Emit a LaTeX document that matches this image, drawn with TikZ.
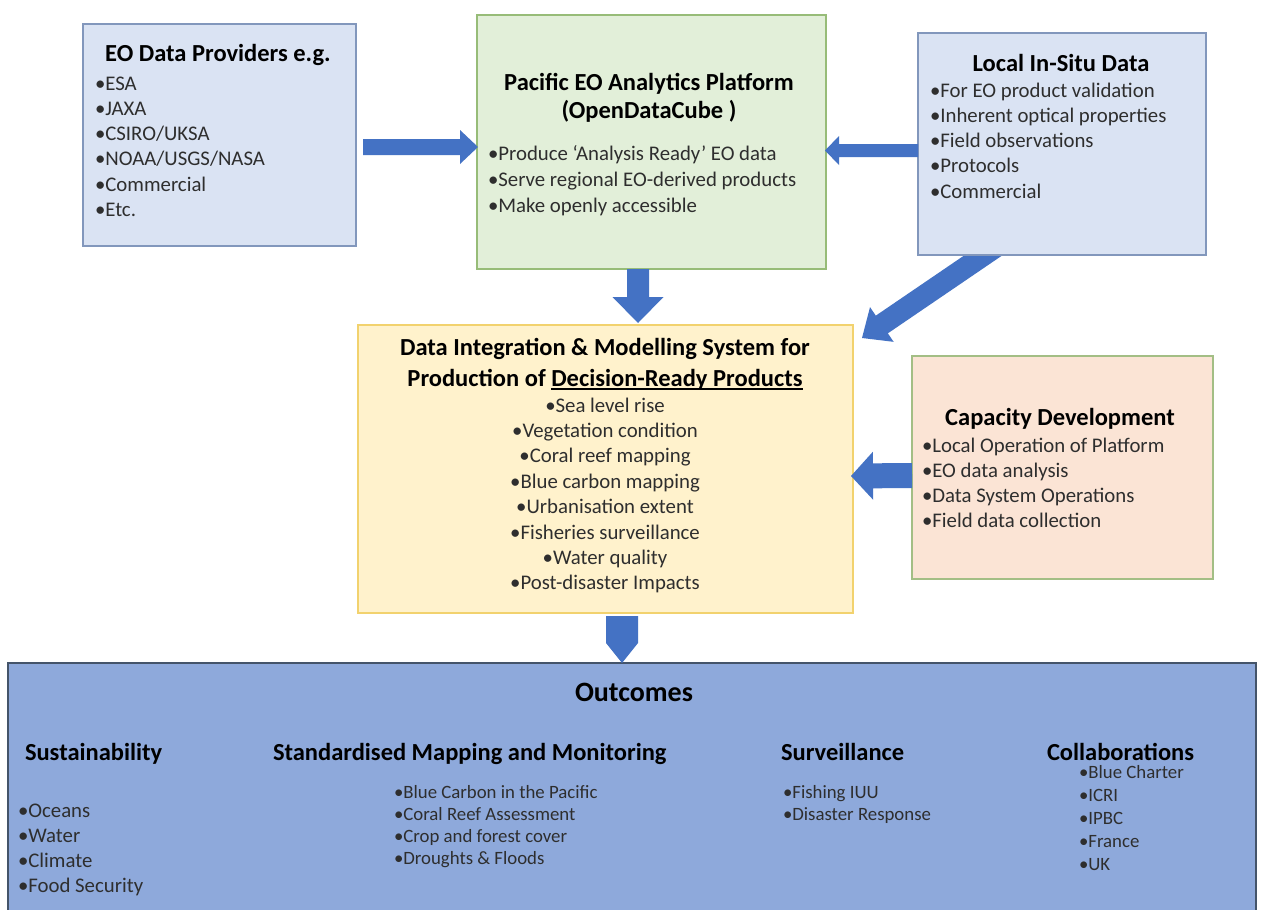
\documentclass[tikz,border=0pt]{standalone}
\usepackage{fontspec}
\setmainfont{Carlito}
\usetikzlibrary{calc}
\pgfdeclarelayer{bg}
\pgfsetlayers{bg,main}
\definecolor{arrowblue}{HTML}{4472C4}
\definecolor{eofill}{HTML}{DAE3F3}
\definecolor{eoline}{HTML}{8297BC}
\definecolor{pacfill}{HTML}{E2EFD9}
\definecolor{pacline}{HTML}{97BC78}
\definecolor{difill}{HTML}{FFF2CC}
\definecolor{diline}{HTML}{F2D26E}
\definecolor{capfill}{HTML}{FBE4D5}
\definecolor{capline}{HTML}{A3BE85}
\definecolor{outfill}{HTML}{8EA9DB}
\definecolor{outline}{HTML}{44546A}
\definecolor{textgray}{HTML}{2E2E2E}
\newcommand\fsz[2]{\fontsize{#1}{#2}\selectfont}
\newcommand\myul[1]{\setbox0\hbox{#1}\rlap{\rule[-3.5pt]{\wd0}{1.8pt}}\box0}
% block arrow: start, tip, shaft half width, head half width, head length
\newcommand\blockarrow[5]{%
  \coordinate (ahb) at ($(#2)!#5!(#1)$);
  \fill[arrowblue] ($(#1)!#3!90:(#2)$) -- ($(ahb)!#3!90:(#2)$) -- ($(ahb)!#4!90:(#2)$)
    -- (#2) -- ($(ahb)!#4!-90:(#2)$) -- ($(ahb)!#3!-90:(#2)$) -- ($(#1)!#3!-90:(#2)$) -- cycle;}
\tikzset{
  box/.style={rectangle, inner sep=0, outer sep=0, line width=1.3pt},
  txt/.style={inner sep=0, outer sep=0, text=textgray},
  ttl/.style={inner sep=0, outer sep=0, text=black, font=\bfseries\fsz{24.5}{28}},
  bul/.style={txt, anchor=base west, align=left, font=\fsz{20.8}{25.3}},
  bulsm/.style={txt, anchor=base west, align=left, font=\fsz{18.8}{22.3}},
}
\begin{document}
\begin{tikzpicture}[x=1pt,y=-1pt]
\useasboundingbox (0,0) rectangle (1261,910);
\begin{pgfonlayer}{bg}
  \fill[white] (0,0) rectangle (1261,910);
\end{pgfonlayer}
\clip (0,0) rectangle (1261,910);

% boxes
\node[box, draw=eoline, fill=eofill, minimum width=273pt, minimum height=222pt] (eo) at (219.5,135) {};
\node[box, draw=pacline, fill=pacfill, minimum width=349pt, minimum height=254pt] (pac) at (651.5,142) {};
\node[box, draw=eoline, fill=eofill, minimum width=288pt, minimum height=222pt] (loc) at (1062,144) {};
\node[box, draw=diline, fill=difill, minimum width=495pt, minimum height=288pt] (di) at (605.5,469) {};
\node[box, draw=capline, fill=capfill, minimum width=301pt, minimum height=223pt] (cap) at (1062.5,467.5) {};
\node[box, draw=outline, fill=outfill, line width=1.6pt, minimum width=1248pt, minimum height=262pt] (out) at (632,794) {};

% (multi-line nodes: the base anchor is the baseline of the last line)
% EO data providers
\node[ttl, anchor=base] (eot) at (218,61) {EO Data Providers e.g.};
\node[bul] (eob) at (95,216.5) {•ESA\\•JAXA\\•CSIRO/UKSA\\•NOAA/USGS/NASA\\•Commercial\\•Etc.};

% Pacific platform
\node[ttl, anchor=base, align=center] (pact) at (649,118) {Pacific EO Analytics Platform\\(OpenDataCube )};
\node[bul, font=\fsz{20.8}{26}] (pacb) at (488,212) {•Produce ‘Analysis Ready’ EO data\\•Serve regional EO-derived products\\•Make openly accessible};

% Local in-situ
\node[ttl, anchor=base] (loct) at (1061,71) {Local In-Situ Data};
\node[bul] (locb) at (930,198.2) {•For EO product validation\\•Inherent optical properties\\•Field observations\\•Protocols\\•Commercial};

% Data integration
\node[ttl, anchor=base, align=center, font=\bfseries\fsz{24.5}{31}] (dit) at (605,386) {Data Integration \& Modelling System for\\Production of \myul{Decision-Ready Products}};
\node[txt, anchor=base, align=center, font=\fsz{20.8}{25.4}] (dib) at (605,589.8) {•Sea level rise\\•Vegetation condition\\•Coral reef mapping\\•Blue carbon mapping\\•Urbanisation extent\\•Fisheries surveillance\\•Water quality\\•Post-disaster Impacts};

% Capacity development
\node[ttl, anchor=base] (capt) at (1060,425) {Capacity Development};
\node[bul] (capb) at (922,527.9) {•Local Operation of Platform\\•EO data analysis\\•Data System Operations\\•Field data collection};

% Outcomes
\node[ttl, anchor=base, font=\bfseries\fsz{28}{32}] (outt) at (634,701) {Outcomes};
\node[ttl, anchor=base west] (sust) at (25,760) {Sustainability};
\node[ttl, anchor=base west] (smmt) at (273,760) {Standardised Mapping and Monitoring};
\node[ttl, anchor=base west] (survt) at (781,760) {Surveillance};
\node[ttl, anchor=base west] (colt) at (1047,760) {Collaborations};
\node[bul, font=\fsz{20.8}{25}] (susb) at (18,892) {•Oceans\\•Water\\•Climate\\•Food Security};
\node[bulsm] (smmb) at (394,864.9) {•Blue Carbon in the Pacific\\•Coral Reef Assessment\\•Crop and forest cover\\•Droughts \& Floods};
\node[bulsm] (survb) at (783,820.3) {•Fishing IUU\\•Disaster Response};
\node[bulsm, font=\fsz{18.8}{23}] (colb) at (1079,870) {•Blue Charter\\•ICRI\\•IPBC\\•France\\•UK};

% connectors (block arrows)
\coordinate (a1s) at ($(eo.east)+(7,12)$);
\coordinate (a1t) at ($(pac.west)+(1,5)$);
\blockarrow{a1s}{a1t}{8pt}{17pt}{18pt}

\coordinate (a2s) at ($(loc.west)+(0,6.5)$);
\coordinate (a2t) at ($(pac.east)+(-1,8.5)$);
\blockarrow{a2s}{a2t}{6.5pt}{14.5pt}{14pt}

\coordinate (a3s) at ($(pac.south)+(-13.5,0)$);
\coordinate (a3t) at ($(di.north)+(32.5,-2)$);
\blockarrow{a3s}{a3t}{11pt}{25.5pt}{26pt}

\coordinate (a4s) at ($(loc.south)+(-62,-11)$);
\coordinate (a4t) at ($(di.north east)+(9,13)$);
\begin{pgfonlayer}{bg}
\blockarrow{a4s}{a4t}{10.7pt}{21pt}{24pt}
\end{pgfonlayer}

\coordinate (a5s) at ($(cap.west)+(0,8)$);
\coordinate (a5t) at ($(di.east)+(-2,7)$);
\blockarrow{a5s}{a5t}{12.5pt}{24pt}{22pt}

\coordinate (a6s) at ($(di.south)+(16.5,3)$);
\coordinate (a6t) at ($(out.north)+(-10,0)$);
\blockarrow{a6s}{a6t}{16pt}{16pt}{20pt}
\end{tikzpicture}
\end{document}
